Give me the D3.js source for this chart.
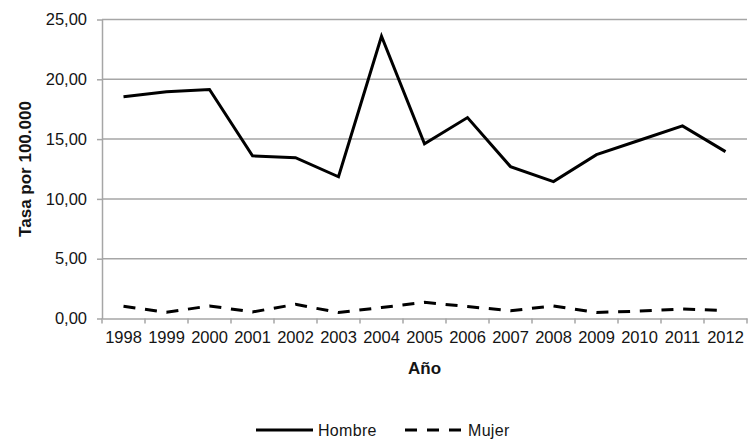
<!DOCTYPE html>
<html>
<head>
<meta charset="utf-8">
<script src="https://cdn.jsdelivr.net/npm/d3@7"></script>
<style>
  html, body { margin: 0; padding: 0; background: #fff; }
  svg { display: block; font-family: "Liberation Sans", Arial, sans-serif; }
</style>
</head>
<body>
<svg id="chart" width="748" height="439"></svg>
<script>
const years = ["1998","1999","2000","2001","2002","2003","2004","2005","2006","2007","2008","2009","2010","2011","2012"];
const hombre = [18.55, 18.95, 19.15, 13.6, 13.45, 11.85, 23.6, 14.6, 16.8, 12.7, 11.45, 13.7, 14.9, 16.1, 13.95];
const mujer  = [1.02, 0.52, 1.05, 0.55, 1.18, 0.5, 0.92, 1.35, 1.0, 0.65, 1.05, 0.5, 0.62, 0.8, 0.65];
const yTicks = [0, 5, 10, 15, 20, 25];
const seriesNames = ["Hombre", "Mujer"];
const yTitle = "Tasa por 100.000";
const xTitle = "Año";

const svg = d3.select("#chart");
const pLeft = 102, pRight = 747, pTop = 19.5, pBottom = 318.5;

const x = d3.scaleBand().domain(years).range([pLeft, pRight]).paddingInner(0).paddingOuter(0);
const y = d3.scaleLinear().domain([0, 25]).range([pBottom, pTop]);
const loc = d3.formatLocale({decimal: ",", thousands: ".", grouping: [3], currency: ["", ""]});
const fmt = loc.format(".2f");
const gridColor = "#a6a6a6";
const textColor = "#141414";

// gridlines
svg.append("g").selectAll("line").data(yTicks.filter(d => d > 0)).join("line")
  .attr("x1", pLeft).attr("x2", pRight)
  .attr("y1", d => y(d)).attr("y2", d => y(d))
  .attr("stroke", gridColor).attr("stroke-width", 1.5);

// y axis
const yAxis = svg.append("g").attr("transform", `translate(${pLeft},0)`)
  .call(d3.axisLeft(y).tickValues(yTicks).tickFormat(fmt).tickSize(5).tickSizeOuter(0).tickPadding(10));
yAxis.select(".domain").attr("stroke", gridColor).attr("stroke-width", 1.5);
yAxis.selectAll(".tick line").attr("stroke", gridColor).attr("stroke-width", 1.5);
yAxis.selectAll("text").attr("font-size", 16.5).attr("fill", textColor)
  .attr("font-family", "Liberation Sans, Arial, sans-serif");

// x axis
const xAxis = svg.append("g").attr("transform", `translate(0,${pBottom})`)
  .call(d3.axisBottom(x).tickSize(0).tickSizeOuter(0).tickPadding(13));
xAxis.select(".domain").attr("stroke", gridColor).attr("stroke-width", 1.5);
xAxis.selectAll("text").attr("font-size", 16.5).attr("fill", textColor)
  .attr("font-family", "Liberation Sans, Arial, sans-serif");
const edges = years.map(d => x(d)).concat([x(years[years.length - 1]) + x.bandwidth()]);
svg.append("g").selectAll("line").data(edges).join("line")
  .attr("x1", d => d).attr("x2", d => d)
  .attr("y1", pBottom).attr("y2", pBottom + 5)
  .attr("stroke", gridColor).attr("stroke-width", 1.5);

// lines
const line = d3.line()
  .x((d, i) => x(years[i]) + x.bandwidth() / 2)
  .y(d => y(d));

svg.append("path").datum(hombre).attr("d", line)
  .attr("fill", "none").attr("stroke", "#000").attr("stroke-width", 3)
  .attr("stroke-linejoin", "miter");
svg.append("path").datum(mujer).attr("d", line)
  .attr("fill", "none").attr("stroke", "#000").attr("stroke-width", 3)
  .attr("stroke-dasharray", "12,9.7");

// axis titles
svg.append("text")
  .attr("transform", `translate(31,${(pTop + pBottom) / 2}) rotate(-90)`)
  .attr("text-anchor", "middle")
  .attr("font-size", 17).attr("font-weight", "bold").attr("fill", textColor)
  .text(yTitle);
svg.append("text")
  .attr("x", (pLeft + pRight) / 2).attr("y", 374)
  .attr("text-anchor", "middle")
  .attr("font-size", 17).attr("font-weight", "bold").attr("fill", textColor)
  .text(xTitle);

// legend
const legend = svg.append("g");
legend.append("line").attr("x1", 256).attr("x2", 313).attr("y1", 430).attr("y2", 430)
  .attr("stroke", "#000").attr("stroke-width", 3);
legend.append("text").attr("x", 318).attr("y", 436).attr("font-size", 16).attr("fill", textColor)
  .attr("letter-spacing", 0.3).text(seriesNames[0]);
legend.append("line").attr("x1", 405).attr("x2", 463).attr("y1", 430).attr("y2", 430)
  .attr("stroke", "#000").attr("stroke-width", 3).attr("stroke-dasharray", "12,10");
legend.append("text").attr("x", 468).attr("y", 436).attr("font-size", 16).attr("fill", textColor)
  .attr("letter-spacing", 0.3).text(seriesNames[1]);
</script>
</body>
</html>
